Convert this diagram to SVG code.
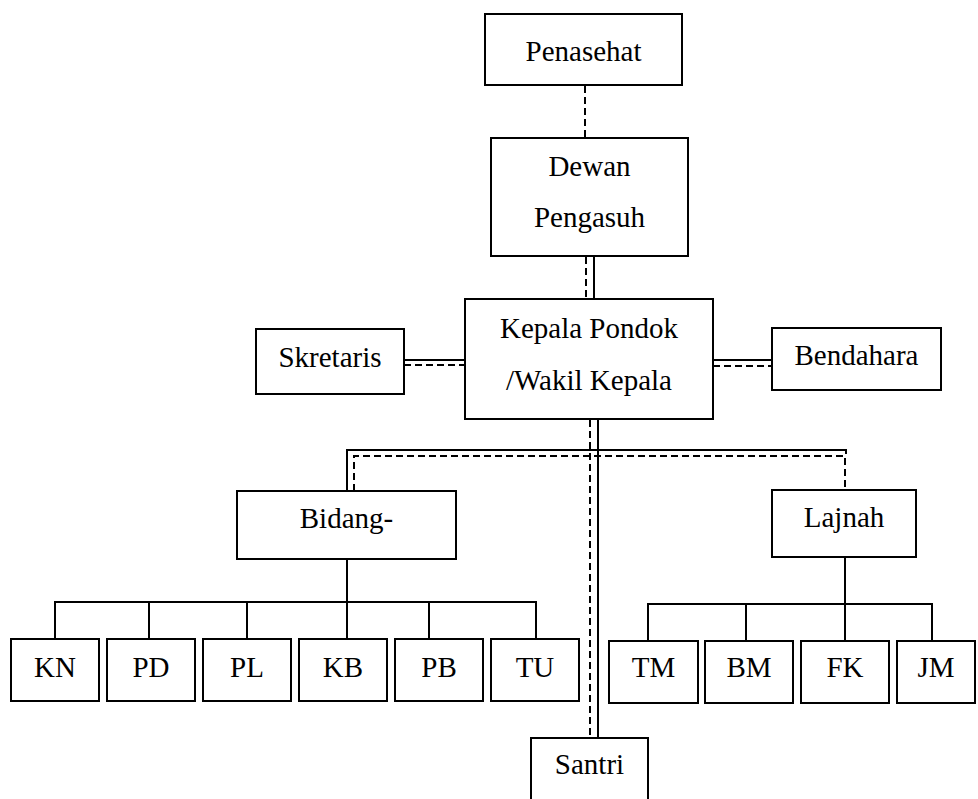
<svg xmlns="http://www.w3.org/2000/svg" width="978" height="799" viewBox="0 0 978 799">
<style>
.box{fill:#fff;stroke:#000;stroke-width:2}
.t{font-family:'Liberation Serif','Times New Roman',serif;font-size:29px;fill:#000;text-anchor:middle}
.s{fill:none;stroke:#000;stroke-width:2}
.d{fill:none;stroke:#000;stroke-width:2;stroke-dasharray:7 4}
</style>
<rect width="978" height="799" fill="#fff"/>
<g id="connectors">
<path class="d" d="M585 86V138"/>
<path class="d" d="M586 257V299"/>
<path class="s" d="M594 256V299"/>
<path class="s" d="M404 360H465"/>
<path class="d" d="M404 365H465"/>
<path class="s" d="M713 360H772"/>
<path class="d" d="M713 366H772"/>
<path class="d" d="M590 420V738"/>
<path class="s" d="M598 420V738"/>
<path class="s" d="M347 491V450H846V454"/>
<path class="d" d="M354 491V456H845V490"/>
<path class="s" d="M347 559V602M55 639V602H536V639M149 602V639M247 602V639M347 602V639M429 602V639"/>
<path class="s" d="M845 557V641M648 641V604H932V641M746 604V641"/>
</g>
<g id="penasehat"><rect class="box" x="485" y="14" width="197" height="71"/><text class="t" x="583.5" y="61">Penasehat</text></g>
<g id="dewan"><rect class="box" x="491" y="138" width="197" height="118"/><text class="t" x="589.5" y="176">Dewan</text><text class="t" x="589.5" y="227">Pengasuh</text></g>
<g id="kepala"><rect class="box" x="465" y="299" width="248" height="120"/><text class="t" x="589" y="338">Kepala Pondok</text><text class="t" x="589" y="390">/Wakil Kepala</text></g>
<g id="skretaris"><rect class="box" x="256" y="329" width="148" height="65"/><text class="t" x="330" y="367">Skretaris</text></g>
<g id="bendahara"><rect class="box" x="772" y="328" width="169" height="62"/><text class="t" x="856.5" y="365">Bendahara</text></g>
<g id="bidang"><rect class="box" x="237" y="491" width="219" height="68"/><text class="t" x="346.5" y="528">Bidang-</text></g>
<g id="lajnah"><rect class="box" x="772" y="490" width="144" height="67"/><text class="t" x="844" y="527">Lajnah</text></g>
<g id="kn"><rect class="box" x="11" y="639" width="88" height="62"/><text class="t" x="55" y="677">KN</text></g>
<g id="pd"><rect class="box" x="107" y="639" width="88" height="62"/><text class="t" x="151" y="677">PD</text></g>
<g id="pl"><rect class="box" x="203" y="639" width="88" height="62"/><text class="t" x="247" y="677">PL</text></g>
<g id="kb"><rect class="box" x="299" y="639" width="88" height="62"/><text class="t" x="343" y="677">KB</text></g>
<g id="pb"><rect class="box" x="395" y="639" width="88" height="62"/><text class="t" x="439" y="677">PB</text></g>
<g id="tu"><rect class="box" x="491" y="639" width="88" height="62"/><text class="t" x="535" y="677">TU</text></g>
<g id="tm"><rect class="box" x="609" y="641" width="89" height="62"/><text class="t" x="653.5" y="677">TM</text></g>
<g id="bm"><rect class="box" x="705" y="641" width="88" height="62"/><text class="t" x="749" y="677">BM</text></g>
<g id="fk"><rect class="box" x="801" y="641" width="88" height="62"/><text class="t" x="845" y="677">FK</text></g>
<g id="jm"><rect class="box" x="897" y="641" width="78" height="62"/><text class="t" x="936" y="677">JM</text></g>
<g id="santri"><rect class="box" x="531" y="738" width="117" height="72"/><text class="t" x="589.5" y="774">Santri</text></g>
</svg>
